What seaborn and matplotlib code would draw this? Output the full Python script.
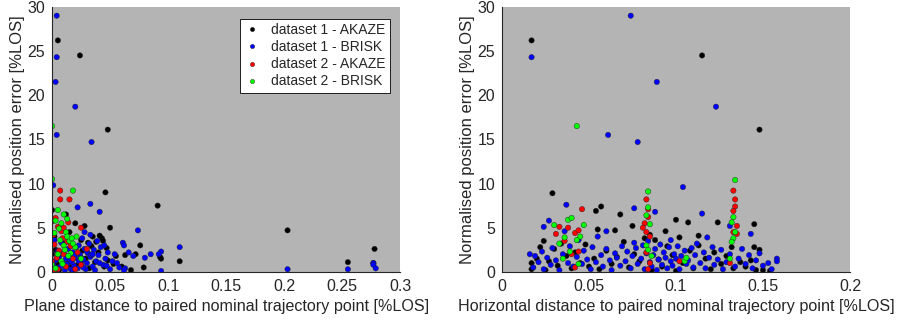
import matplotlib
matplotlib.use("Agg")
import matplotlib.pyplot as plt
import seaborn as sns
import pandas as pd

### series names and colours
series = ["dataset 1 - AKAZE", "dataset 1 - BRISK", "dataset 2 - AKAZE", "dataset 2 - BRISK"]
colors = ["#000000", "#0000ff", "#ff0000", "#00ff00"]

### left panel: plane distance
left_d1a_x = [0.005,0.024,0.048,0.046,0.091,0.203,0.278,0.255,0.277,0.110,0.079,0.068,0.094,0.093,0.076,0.050,0.043,0.044,0.038,0.035,0.020,0.028,0.012,0.000,0.001,0.002,0.003,0.004,0.006,0.010,0.015,0.018,0.022,0.025,0.029,0.032,0.034,0.040,0.045,0.048,0.053,0.060,0.063,0.072,0.016,0.026,0.037,0.041,0.008,0.014,0.031,0.047,0.055,0.002,0.000]
left_d1a_y = [26.2,24.5,16.1,9.0,7.5,4.7,2.6,1.1,1.0,1.2,0.5,0.2,1.5,1.7,3.0,5.0,3.8,3.5,3.4,4.0,5.5,5.2,6.5,7.0,5.8,4.0,2.5,1.0,0.2,3.2,4.5,2.0,0.8,3.6,1.5,0.4,2.9,2.2,0.6,1.3,0.9,0.6,1.9,2.0,0.5,2.4,1.1,4.1,4.8,1.4,3.3,2.7,1.8,0.5,2.0]

left_d1b_x = [0.004,0.004,0.003,0.020,0.004,0.034,0.001,0.022,0.033,0.041,0.074,0.061,0.062,0.094,0.092,0.110,0.203,0.255,0.277,0.277,0.279,0.094,0.063,0.080,0.085,0.070,0.058,0.052,0.048,0.046,0.044,0.042,0.040,0.038,0.036,0.035,0.033,0.032,0.031,0.030,0.029,0.028,0.027,0.026,0.025,0.024,0.023,0.022,0.021,0.020,0.019,0.018,0.017,0.016,0.015,0.014,0.013,0.012,0.011,0.010,0.009,0.008,0.007,0.006,0.005,0.004,0.003,0.002,0.001,0.050,0.054,0.039,0.037,0.034,0.027,0.023,0.019,0.016,0.035,0.041,0.047,0.030,0.025,0.018,0.066,0.056,0.062,0.033,0.028,0.045]
left_d1b_y = [29.0,24.3,21.5,18.7,15.5,14.7,9.8,7.3,7.7,6.8,4.7,3.3,3.0,2.3,2.0,2.8,0.3,0.3,1.0,0.8,0.4,0.1,0.4,1.6,2.0,1.8,0.5,1.2,2.2,1.5,0.8,2.8,1.9,1.2,2.5,0.6,1.7,3.2,2.1,1.0,0.3,2.6,1.4,3.8,0.9,2.0,1.2,0.4,2.8,1.6,0.7,2.2,1.1,0.3,1.8,2.6,0.9,1.5,0.2,2.1,1.0,3.3,0.6,1.7,2.4,0.4,1.3,3.6,0.8,0.3,2.0,3.5,0.2,1.9,0.5,3.0,1.9,1.3,2.0,1.0,0.7,2.3,1.6,0.2,2.2,1.0,0.2,4.2,4.5,3.0]

left_d2a_x = [0.007,0.007,0.015,0.003,0.005,0.008,0.010,0.002,0.006,0.010,0.000,0.005,0.018,0.025,0.030,0.013,0.001,0.004,0.012,0.020,0.016,0.009,0.022,0.001,0.014,0.025]
left_d2a_y = [9.2,8.2,8.2,6.1,5.1,4.6,5.0,3.1,2.4,2.0,1.2,0.3,1.5,0.8,2.6,3.4,4.2,1.6,0.6,0.3,2.9,3.8,2.2,0.2,5.6,5.0]

left_d2b_x = [0.000,0.000,0.018,0.005,0.010,0.008,0.003,0.012,0.015,0.010,0.020,0.005,0.000,0.025,0.013,0.018,0.007,0.002,0.011,0.016,0.008,0.003,0.013,0.021,0.006,0.017,0.014,0.009]
left_d2b_y = [16.5,10.5,9.2,7.0,6.5,5.5,5.8,4.5,3.5,3.0,2.8,2.0,0.8,1.5,4.0,3.2,3.6,4.4,2.5,2.1,1.2,0.4,6.0,4.0,4.9,3.8,1.8,0.9]

### right panel: horizontal distance
right_d1a_x = [0.017,0.115,0.148,0.029,0.054,0.057,0.068,0.100,0.107,0.124,0.145,0.055,0.065,0.075,0.094,0.132,0.145,0.148,0.017,0.017,0.020,0.022,0.024,0.025,0.027,0.030,0.032,0.034,0.037,0.040,0.042,0.045,0.048,0.050,0.053,0.056,0.060,0.063,0.066,0.070,0.073,0.076,0.079,0.082,0.086,0.088,0.090,0.092,0.095,0.098,0.100,0.102,0.104,0.108,0.110,0.113,0.117,0.120,0.122,0.126,0.129,0.133,0.137,0.140,0.143,0.146,0.150,0.154,0.085,0.113]
right_d1a_y = [26.2,24.5,16.1,8.9,6.9,7.4,6.5,5.9,5.6,5.6,5.4,4.8,4.7,5.2,4.6,2.8,2.8,2.5,1.0,0.3,1.5,2.8,3.5,0.2,1.2,2.6,0.7,3.2,1.8,0.4,2.2,1.0,3.1,0.6,1.5,0.3,2.4,0.9,1.7,3.4,0.5,2.0,1.2,3.8,0.2,3.6,1.4,0.6,2.9,1.9,0.1,3.9,1.0,2.4,0.4,3.0,1.5,0.3,2.2,0.9,1.8,0.4,1.1,0.6,1.3,0.2,0.2,0.1,4.2,4.1]

right_d1b_x = [0.074,0.017,0.089,0.123,0.061,0.078,0.104,0.037,0.076,0.088,0.115,0.027,0.024,0.060,0.143,0.131,0.158,0.158,0.016,0.018,0.019,0.021,0.023,0.024,0.026,0.028,0.029,0.031,0.033,0.035,0.036,0.038,0.039,0.041,0.043,0.044,0.046,0.047,0.049,0.051,0.052,0.054,0.055,0.057,0.058,0.060,0.062,0.063,0.065,0.066,0.068,0.069,0.071,0.072,0.074,0.075,0.077,0.078,0.080,0.081,0.082,0.083,0.085,0.086,0.087,0.088,0.089,0.090,0.091,0.092,0.093,0.094,0.095,0.096,0.097,0.098,0.099,0.100,0.101,0.102,0.103,0.105,0.106,0.107,0.109,0.110,0.111,0.112,0.114,0.116,0.117,0.119,0.121,0.122,0.124,0.126,0.127,0.129,0.131,0.134,0.136,0.138,0.140,0.142,0.144,0.146,0.148,0.150,0.153,0.155,0.084,0.097,0.076,0.118]
right_d1b_y = [29.0,24.3,21.5,18.7,15.5,14.7,9.6,7.6,7.2,6.8,6.6,5.8,5.1,4.6,4.3,5.2,1.5,1.2,2.0,0.5,1.8,1.1,2.3,0.3,1.6,0.8,2.7,1.3,0.2,2.0,4.6,1.0,2.9,0.6,1.7,3.6,0.9,2.4,1.4,0.3,2.8,1.1,4.0,1.9,0.6,2.6,1.3,0.2,2.1,1.6,0.7,2.9,1.2,2.3,0.4,1.8,2.7,0.9,1.5,3.0,0.3,2.1,1.1,0.6,1.9,2.6,0.2,1.4,3.1,0.8,2.2,1.6,0.4,2.8,1.2,0.7,2.0,1.5,2.9,0.3,1.8,2.4,0.9,1.3,2.7,0.5,1.9,3.2,1.0,2.2,0.4,1.6,2.8,0.8,1.4,2.5,0.3,1.1,2.0,0.6,1.5,2.6,0.9,1.9,0.4,1.3,2.1,0.7,1.0,0.3,3.5,3.6,3.3,3.9]

right_d2a_x = [0.083,0.084,0.084,0.082,0.081,0.083,0.085,0.133,0.134,0.134,0.133,0.135,0.133,0.135,0.031,0.033,0.038,0.042,0.044,0.046,0.040,0.042,0.036,0.085,0.084,0.102,0.131,0.044,0.083]
right_d2a_y = [8.2,7.1,6.2,5.5,5.0,4.5,4.0,9.2,8.2,7.4,6.9,5.2,4.5,4.3,4.3,5.1,5.0,4.4,4.7,7.1,2.0,0.5,3.5,1.0,0.3,1.2,1.0,2.3,2.2]

right_d2b_x = [0.043,0.134,0.084,0.084,0.083,0.085,0.083,0.084,0.133,0.132,0.134,0.133,0.132,0.030,0.038,0.040,0.045,0.043,0.033,0.039,0.035,0.105,0.106,0.047,0.044,0.086,0.131,0.036]
right_d2b_y = [16.5,10.4,9.1,7.3,6.4,5.4,3.0,2.5,6.2,5.6,4.5,3.8,3.4,5.3,5.9,6.1,4.0,3.6,3.2,2.3,1.5,1.2,1.6,5.3,0.9,1.8,1.5,3.9]


def build(xs, ys):
    frames = []
    for name, x, y in zip(series, xs, ys):
        frames.append(pd.DataFrame({"x": x, "y": y, "series": name}))
    return pd.concat(frames, ignore_index=True)


left = build([left_d1a_x, left_d1b_x, left_d2a_x, left_d2b_x],
             [left_d1a_y, left_d1b_y, left_d2a_y, left_d2b_y])
right = build([right_d1a_x, right_d1b_x, right_d2a_x, right_d2b_x],
              [right_d1a_y, right_d1b_y, right_d2a_y, right_d2b_y])

sns.set_style("white")
plt.rcParams["font.family"] = ["Liberation Sans", "DejaVu Sans"]

fig = plt.figure(figsize=(8.98, 3.26), dpi=100)
ax1 = fig.add_axes([0.058, 0.166, 0.3875, 0.813])
ax2 = fig.add_axes([0.559, 0.166, 0.3875, 0.813])

palette = dict(zip(series, colors))

for ax, df, xmax, xlabel in [
    (ax1, left, 0.3, "Plane distance to paired nominal trajectory point [%LOS]"),
    (ax2, right, 0.2, "Horizontal distance to paired nominal trajectory point [%LOS]"),
]:
    sns.scatterplot(data=df, x="x", y="y", hue="series", palette=palette,
                    s=15, linewidth=0.3, edgecolor="#202020", ax=ax,
                    legend=(ax is ax1))
    ax.set_facecolor("#b4b4b4")
    ax.set_xlim(0, xmax)
    ax.set_ylim(0, 30)
    ax.set_yticks([0, 5, 10, 15, 20, 25, 30])
    if xmax == 0.3:
        ax.set_xticks([0, 0.05, 0.1, 0.15, 0.2, 0.25, 0.3])
        ax.set_xticklabels(["0", "0.05", "0.1", "0.15", "0.2", "0.25", "0.3"])
    else:
        ax.set_xticks([0, 0.05, 0.1, 0.15, 0.2])
        ax.set_xticklabels(["0", "0.05", "0.1", "0.15", "0.2"])
    ax.set_xlabel(xlabel, fontsize=11.6, color="#262626", labelpad=4)
    ax.set_ylabel("Normalised position error [%LOS]", fontsize=12, color="#262626", labelpad=2)
    ax.tick_params(labelsize=11.5, colors="#262626", direction="in", length=3, width=0.6, pad=5)
    for side in ["top", "right"]:
        ax.spines[side].set_visible(False)
    for side in ["left", "bottom"]:
        ax.spines[side].set_color("#262626")
        ax.spines[side].set_linewidth(0.8)

leg = ax1.legend(loc="upper right", bbox_to_anchor=(0.99, 0.98), fontsize=10,
                 frameon=True, fancybox=False, framealpha=1, edgecolor="black",
                 borderpad=0.3, labelspacing=0.22, handlelength=1.0,
                 handletextpad=0.9, markerscale=0.8)
leg.get_frame().set_linewidth(0.6)

fig.savefig("out.png", dpi=100)
